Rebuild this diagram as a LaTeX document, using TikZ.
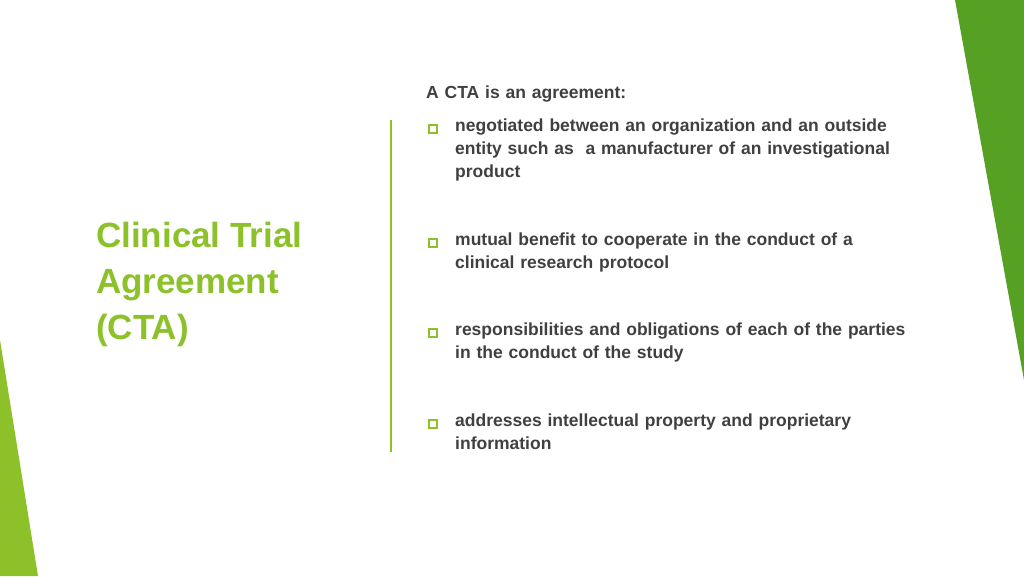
\documentclass[tikz,border=0pt]{standalone}
\usepackage{fontspec}
\setmainfont{Liberation Sans}
\definecolor{dg}{HTML}{56A024}
\definecolor{lg}{HTML}{8CC12A}
\definecolor{tx}{HTML}{404040}
\begin{document}
\begin{tikzpicture}[x=1pt,y=-1pt,
  body/.style={anchor=north west,text width=480pt,align=left,font=\fontsize{17.5}{23}\selectfont\bfseries,text=tx,inner sep=0pt},
  bul/.style={draw=lg,line width=1.3pt,minimum size=8pt,inner sep=0pt,fill=white}]
\useasboundingbox (0,0) rectangle (1024,576);
\fill[dg] (955,0) -- (1024,0) -- (1024,380) -- cycle;
\fill[lg] (0,340) -- (0,576) -- (38,576) -- cycle;
\draw[lg,line width=1.2pt] (391,120) -- (391,452);
\node[anchor=north west,inner sep=0pt,text=lg,align=left,font=\fontsize{35}{46}\selectfont\bfseries] (title) at (96,222) {Clinical Trial\\Agreement\\(CTA)};
\node[body] (h) at (426,86) {A CTA is an agreement:};
\node[body,text width=475pt] (t1) at (455,119) {negotiated between an organization and an outside\\entity such as \ a manufacturer of an investigational\\product};
\node[body] (t2) at (455,233) {mutual benefit to cooperate in the conduct of a\\clinical research protocol};
\node[body] (t3) at (455,323) {responsibilities and obligations of each of the parties\\in the conduct of the study};
\node[body] (t4) at (455,414) {addresses intellectual property and proprietary\\information};
\node[bul] (b1) at (433,129) {};
\node[bul] (b2) at (433,243) {};
\node[bul] (b3) at (433,333) {};
\node[bul] (b4) at (433,424) {};
\end{tikzpicture}
\end{document}
